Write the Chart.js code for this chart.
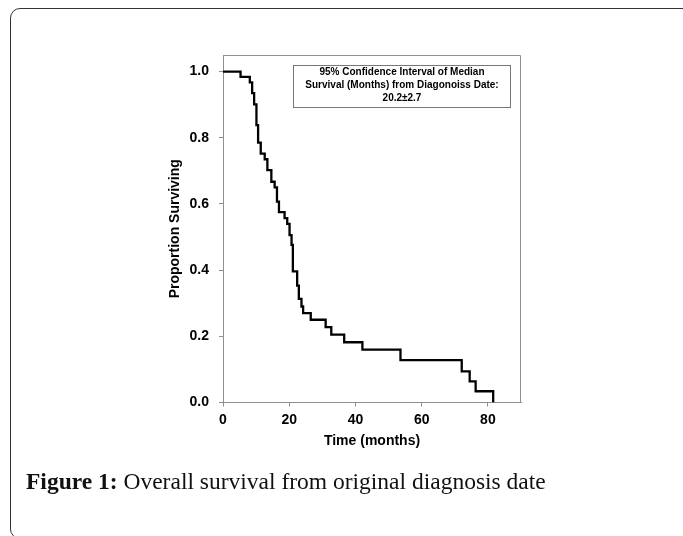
<!DOCTYPE html>
<html>
<head>
<meta charset="utf-8">
<script src="https://cdn.jsdelivr.net/npm/chart.js@4"></script>
<style>
  html, body { margin: 0; padding: 0; background: #fff; overflow: hidden; }
  #wrap { position: relative; width: 683px; height: 536px; overflow: hidden; }
  #frame { position: absolute; left: 10px; top: 8px; width: 700px; height: 531px;
           border: 1.5px solid #333; border-radius: 10px; box-sizing: border-box; }
  #c { position: absolute; left: 0; top: 0; }
  #caption { position: absolute; left: 26px; top: 468px; white-space: nowrap;
             font-family: "Liberation Serif", "Times New Roman", serif; font-size: 23.5px; color: #111; }
  #caption b { font-weight: bold; }
</style>
</head>
<body>
<div id="wrap">
  <div id="frame"></div>
  <canvas id="c" width="683" height="536"></canvas>
  <div id="caption"><b>Figure 1:</b> Overall survival from original diagnosis date</div>
</div>
<script>
// Kaplan-Meier estimate
const months   = [0, 5.3, 8.1, 8.8, 9.4, 10.1, 10.6, 11.4, 12.6, 13.4, 14.6, 15.6, 16.3, 16.9, 18.6, 19.4, 20.1, 20.7, 21.1, 22.4, 22.9, 23.7, 24.2, 26.5, 31.0, 32.7, 36.6, 42.1, 53.6, 72.1, 74.5, 76.3, 81.6];
const survival = [1.0, 0.984, 0.967, 0.935, 0.901, 0.838, 0.785, 0.752, 0.735, 0.702, 0.667, 0.650, 0.607, 0.575, 0.557, 0.540, 0.506, 0.476, 0.396, 0.353, 0.313, 0.290, 0.270, 0.250, 0.228, 0.205, 0.182, 0.160, 0.128, 0.094, 0.064, 0.034, 0.0];
const xTicks = [0, 20, 40, 60, 80];
const yTicks = [0.0, 0.2, 0.4, 0.6, 0.8, 1.0];
const boxLines = ["95% Confidence Interval of Median", "Survival (Months) from Diagonoiss Date:", "20.2\u00B12.7"];
const xTitle = "Time (months)";
const yTitle = "Proportion Surviving";

const points = months.map((m, i) => ({ x: m, y: survival[i] }));
const FONT = "'Liberation Sans', Arial, sans-serif";
const GRAY = '#8f8f8f';

const framePlugin = {
  id: 'framePlugin',
  beforeDatasetsDraw(chart) {
    const { ctx, chartArea: a } = chart;
    ctx.save();
    ctx.strokeStyle = GRAY;
    ctx.lineWidth = 1;
    ctx.beginPath();
    ctx.moveTo(a.left, a.top + 0.5);
    ctx.lineTo(a.right - 0.5, a.top + 0.5);
    ctx.lineTo(a.right - 0.5, a.bottom);
    ctx.stroke();
    ctx.restore();
  },
  afterDatasetsDraw(chart) {
    const { ctx, chartArea: a } = chart;
    const left = a.left + 70.5, right = a.right - 10.5, top = a.top + 10.5, bottom = a.top + 52.5;
    ctx.save();
    ctx.fillStyle = '#fff';
    ctx.fillRect(left, top, right - left, bottom - top);
    ctx.strokeStyle = '#777';
    ctx.lineWidth = 1;
    ctx.strokeRect(left, top, right - left, bottom - top);
    ctx.fillStyle = '#000';
    ctx.font = "bold 10px " + FONT;
    ctx.textAlign = 'center';
    ctx.textBaseline = 'middle';
    const cx = (left + right) / 2;
    boxLines.forEach((t, i) => ctx.fillText(t, cx, top + 7 + i * 13));
    ctx.restore();
  }
};

new Chart(document.getElementById('c'), {
  type: 'line',
  data: {
    datasets: [{
      data: points,
      borderColor: '#000',
      borderWidth: 2.3,
      pointRadius: 0,
      stepped: 'before',
      fill: false,
      borderJoinStyle: 'miter',
      borderCapStyle: 'butt'
    }]
  },
  options: {
    responsive: false,
    animation: false,
    devicePixelRatio: 1,
    layout: { padding: { left: 160, top: 55, right: 162, bottom: 83.5 } },
    plugins: { legend: { display: false }, tooltip: { enabled: false } },
    scales: {
      x: {
        type: 'linear', min: 0, max: 90,
        afterBuildTicks: s => { s.ticks = xTicks.map(v => ({ value: v })); },
        afterFit: s => { s.height = 50; },
        grid: { display: true, drawOnChartArea: false, tickLength: 4, color: GRAY },
        border: { display: true, color: GRAY, width: 1 },
        ticks: { color: '#000', padding: 5, font: { family: FONT, size: 14, weight: 'bold' }, maxRotation: 0 },
        title: { display: true, text: xTitle, color: '#000', padding: { top: 0, bottom: 3 },
                 font: { family: FONT, size: 14, weight: 'bold' } }
      },
      y: {
        type: 'linear', min: 0, max: 1.05,
        afterBuildTicks: s => { s.ticks = yTicks.map(v => ({ value: v })); },
        afterFit: s => { s.width = 63; },
        grid: { display: true, drawOnChartArea: false, tickLength: 4, color: GRAY },
        border: { display: true, color: GRAY, width: 1 },
        ticks: { color: '#000', padding: 10, font: { family: FONT, size: 14, weight: 'bold' },
                 callback: v => Number(v).toFixed(1) },
        title: { display: true, text: yTitle, color: '#000', padding: { top: 7, bottom: 0 },
                 font: { family: FONT, size: 14, weight: 'bold' } }
      }
    }
  },
  plugins: [framePlugin]
});
</script>
</body>
</html>
